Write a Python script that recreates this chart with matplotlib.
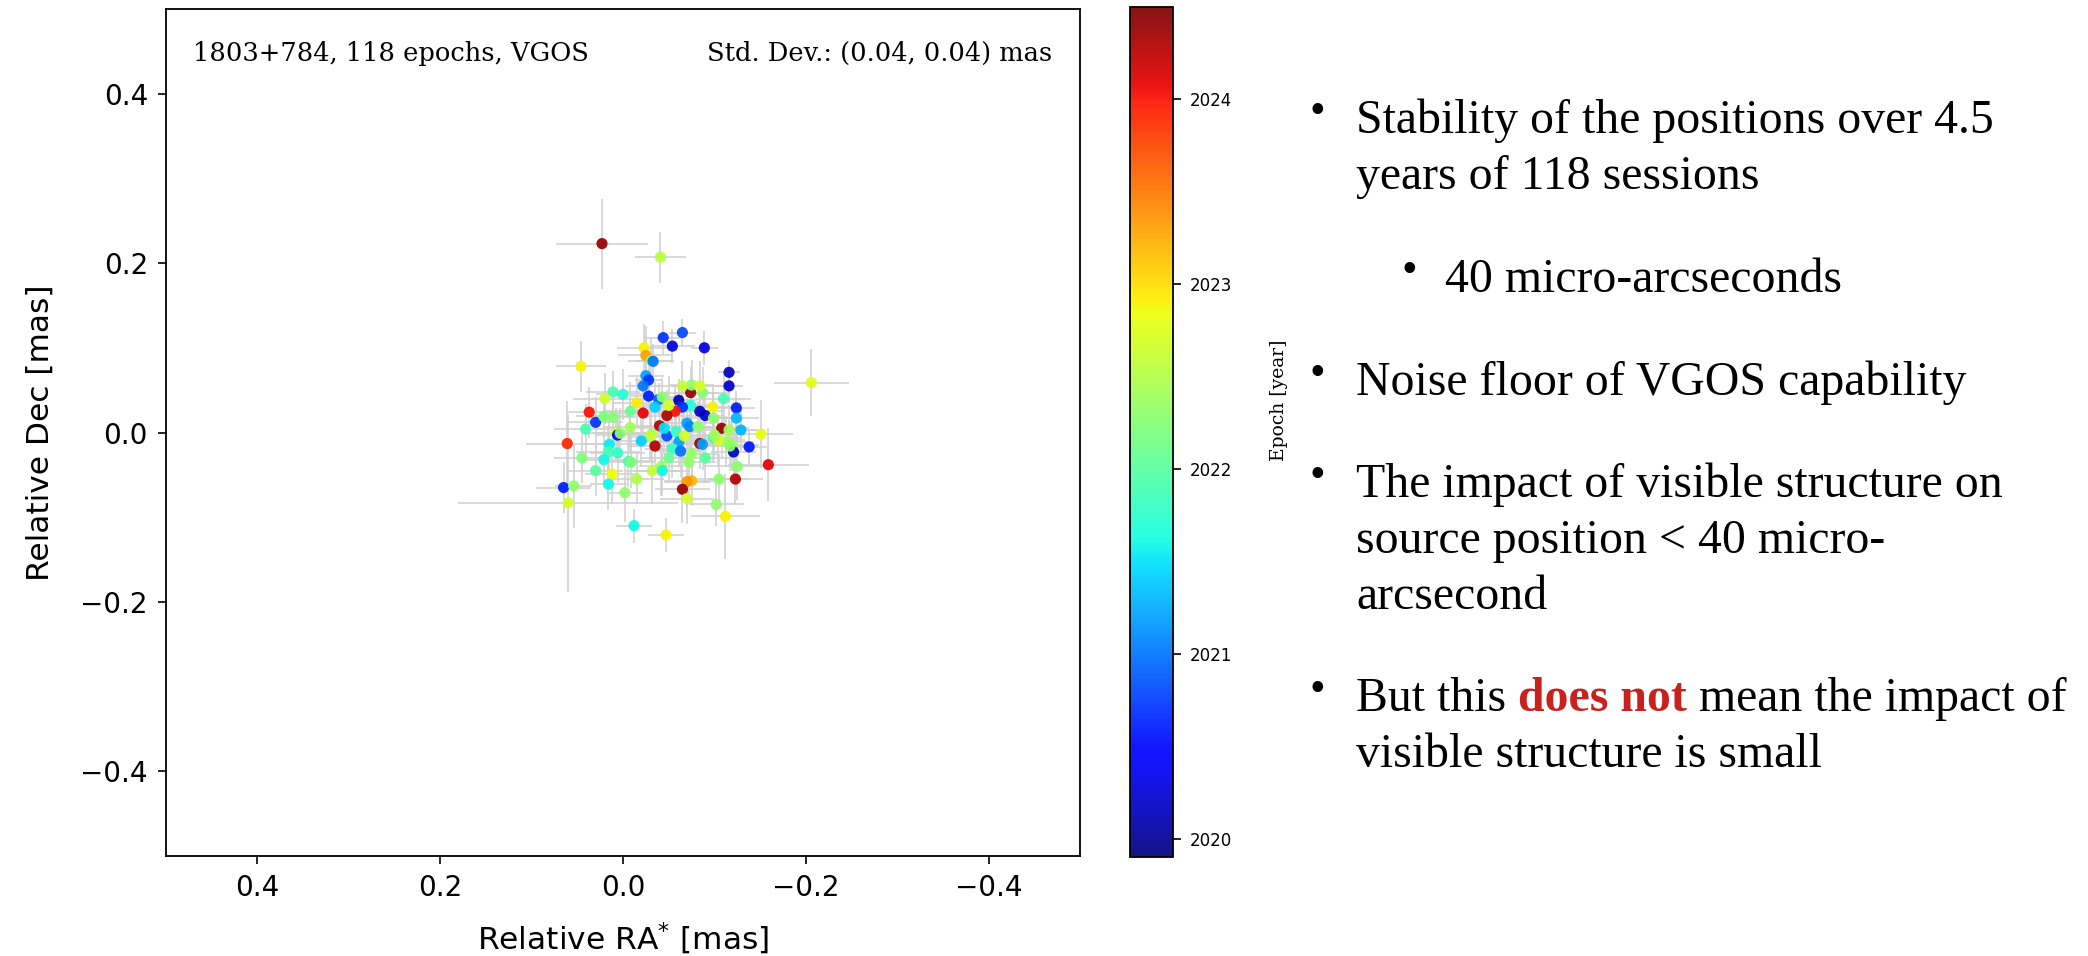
import matplotlib
matplotlib.use("Agg")
import matplotlib.pyplot as plt
import numpy as np

# ---- data ----
ra = [0.023, -0.041, -0.206, 0.046, -0.044, -0.065, -0.054, -0.023, -0.025, -0.031,
      -0.033, -0.025, -0.028, -0.022, -0.028, -0.039, -0.043, 0.011, 0.020, -0.015,
      -0.008, -0.022, 0.037, -0.061, -0.074, -0.075, -0.074, -0.065, -0.057, -0.048,
      -0.050, -0.089, -0.116, -0.116, -0.098, -0.124, -0.124, -0.084, -0.090, -0.087,
      -0.084, 0.030, 0.041, 0.061, 0.021, 0.011, 0.008, 0.006, 0.003, 0.015,
      0.016, 0.006, 0.021, -0.006, -0.009, 0.012, 0.016, 0.065, 0.054, 0.060,
      -0.002, -0.012, -0.047, -0.032, -0.042, -0.043, -0.072, -0.075, -0.070, -0.065,
      -0.070, -0.040, -0.031, -0.030, -0.035, -0.048, -0.058, -0.061, -0.054, -0.063,
      -0.067, -0.070, -0.073, -0.084, -0.108, -0.129, -0.116, -0.151, -0.113, -0.119,
      -0.121, -0.138, -0.087, -0.099, -0.082, -0.099, -0.125, -0.159, -0.105, -0.123,
      -0.102, -0.112, -0.104, -0.100, -0.117, -0.008, -0.020, -0.050, -0.045, -0.090,
      0.000, -0.015, 0.030, -0.065, -0.110, -0.035, 0.045, -0.075]
dec = [0.223, 0.207, 0.059, 0.078, 0.112, 0.118, 0.102, 0.100, 0.091, 0.085,
       0.084, 0.067, 0.062, 0.055, 0.043, 0.039, 0.042, 0.048, 0.040, 0.035,
       0.025, 0.023, 0.024, 0.038, 0.047, 0.056, 0.032, 0.030, 0.025, 0.020,
       0.032, 0.100, 0.071, 0.055, 0.030, 0.029, 0.017, 0.025, 0.020, 0.047,
       0.055, 0.012, 0.004, -0.013, 0.019, 0.018, -0.001, -0.003, -0.001, -0.014,
       -0.023, -0.024, -0.032, -0.034, -0.035, -0.049, -0.061, -0.065, -0.063, -0.083,
       -0.071, -0.110, -0.121, -0.045, -0.040, -0.045, -0.035, -0.057, -0.058, -0.067,
       -0.078, 0.008, -0.002, -0.005, -0.016, -0.004, 0.001, -0.011, -0.019, -0.022,
       -0.004, 0.011, 0.007, -0.013, 0.005, 0.003, 0.003, -0.002, -0.011, -0.015,
       -0.023, -0.017, -0.014, -0.006, 0.007, 0.017, -0.040, -0.038, -0.055, -0.055,
       -0.085, -0.099, -0.009, -0.003, -0.016, 0.006, -0.010, -0.030, 0.005, -0.030,
       0.045, -0.055, -0.045, 0.055, 0.040, 0.030, -0.030, -0.025]
ra_err = [0.050, 0.028, 0.041, 0.027, 0.020, 0.015, 0.025, 0.030, 0.030, 0.025,
          0.020, 0.020, 0.015, 0.020, 0.020, 0.025, 0.020, 0.030, 0.035, 0.025,
          0.030, 0.030, 0.025, 0.020, 0.030, 0.025, 0.030, 0.025, 0.030, 0.025,
          0.030, 0.015, 0.012, 0.015, 0.030, 0.020, 0.025, 0.025, 0.020, 0.030,
          0.030, 0.030, 0.035, 0.045, 0.030, 0.025, 0.035, 0.025, 0.030, 0.030,
          0.035, 0.030, 0.025, 0.030, 0.025, 0.030, 0.020, 0.030, 0.020, 0.120,
          0.020, 0.020, 0.020, 0.030, 0.025, 0.030, 0.030, 0.030, 0.025, 0.030,
          0.030, 0.030, 0.030, 0.025, 0.030, 0.025, 0.030, 0.030, 0.030, 0.025,
          0.030, 0.030, 0.025, 0.030, 0.030, 0.025, 0.030, 0.035, 0.030, 0.030,
          0.025, 0.020, 0.030, 0.030, 0.030, 0.030, 0.035, 0.044, 0.030, 0.030,
          0.030, 0.038, 0.030, 0.025, 0.030, 0.030, 0.030, 0.030, 0.030, 0.030,
          0.030, 0.030, 0.030, 0.030, 0.030, 0.030, 0.030, 0.030]
dec_err = [0.053, 0.030, 0.040, 0.030, 0.020, 0.016, 0.020, 0.028, 0.035, 0.025,
           0.020, 0.020, 0.020, 0.018, 0.025, 0.020, 0.022, 0.025, 0.030, 0.030,
           0.035, 0.030, 0.030, 0.025, 0.030, 0.030, 0.030, 0.025, 0.030, 0.030,
           0.035, 0.020, 0.015, 0.020, 0.025, 0.020, 0.025, 0.030, 0.025, 0.030,
           0.030, 0.030, 0.030, 0.050, 0.025, 0.030, 0.030, 0.025, 0.030, 0.035,
           0.030, 0.035, 0.030, 0.030, 0.030, 0.035, 0.030, 0.030, 0.050, 0.105,
           0.035, 0.020, 0.020, 0.040, 0.035, 0.030, 0.040, 0.030, 0.030, 0.040,
           0.030, 0.030, 0.030, 0.030, 0.030, 0.030, 0.030, 0.030, 0.035, 0.030,
           0.030, 0.030, 0.030, 0.030, 0.035, 0.025, 0.030, 0.040, 0.030, 0.030,
           0.030, 0.020, 0.030, 0.030, 0.030, 0.030, 0.040, 0.043, 0.030, 0.030,
           0.025, 0.050, 0.030, 0.030, 0.030, 0.030, 0.030, 0.030, 0.030, 0.030,
           0.030, 0.030, 0.030, 0.030, 0.030, 0.030, 0.030, 0.030]
epoch = [2024.40, 2022.55, 2022.75, 2022.90, 2020.70, 2020.80, 2020.30, 2022.90, 2023.30, 2022.30,
         2021.00, 2021.20, 2020.70, 2021.00, 2020.60, 2020.90, 2022.30, 2021.90, 2022.70, 2022.95,
         2022.10, 2024.10, 2024.00, 2020.10, 2024.40, 2022.30, 2021.70, 2020.70, 2024.00, 2024.30,
         2022.70, 2020.30, 2020.15, 2020.20, 2022.90, 2020.60, 2021.30, 2020.15, 2020.20, 2022.25,
         2022.70, 2020.70, 2021.90, 2023.90, 2022.20, 2022.25, 2022.75, 2020.50, 2022.30, 2021.55,
         2021.90, 2021.80, 2021.60, 2021.90, 2022.20, 2022.85, 2021.60, 2020.60, 2022.30, 2022.70,
         2022.30, 2021.60, 2022.90, 2022.60, 2022.40, 2021.60, 2022.30, 2023.20, 2023.35, 2024.40,
         2022.70, 2024.30, 2022.45, 2022.60, 2024.30, 2020.80, 2021.80, 2021.20, 2021.80, 2021.00,
         2022.70, 2021.20, 2021.10, 2024.40, 2024.40, 2021.30, 2022.40, 2022.80, 2022.40, 2022.40,
         2020.20, 2020.55, 2021.20, 2021.80, 2022.30, 2022.30, 2022.30, 2024.10, 2022.30, 2024.30,
         2022.30, 2022.90, 2022.70, 2022.40, 2022.30, 2022.40, 2021.40, 2022.10, 2021.50, 2022.00,
         2021.70, 2022.50, 2022.00, 2022.60, 2021.90, 2021.40, 2022.20, 2022.35]

x_ticks = [0.4, 0.2, 0.0, -0.2, -0.4]
y_ticks = [0.4, 0.2, 0.0, -0.2, -0.4]
cb_ticks = [2020, 2021, 2022, 2023, 2024]
epoch_range = (2019.9, 2024.5)

title_left = "1803+784, 118 epochs, VGOS"
title_right = "Std. Dev.: (0.04, 0.04) mas"

W, H = 2088, 956
fig = plt.figure(figsize=(W / 100, H / 100), dpi=100)
fig.patch.set_facecolor("white")


def fx(px):
    return px / W


def fy(py):
    return 1 - py / H


ax = fig.add_axes([fx(166), fy(856), fx(1080) - fx(166), fy(9) - fy(856)])
ax.errorbar(ra, dec, xerr=ra_err, yerr=dec_err, fmt="none",
            ecolor="#cfcfcf", elinewidth=1.2, alpha=0.9, zorder=1)
sc = ax.scatter(ra, dec, c=epoch, cmap="jet", vmin=epoch_range[0], vmax=epoch_range[1],
                s=65, edgecolors="none", alpha=0.92, zorder=2)
ax.set_xlim(0.5, -0.5)
ax.set_ylim(-0.5, 0.5)
ax.set_xticks(x_ticks)
ax.set_yticks(y_ticks)
ax.set_xticklabels([f"{v:.1f}".replace("-", "\u2212") for v in x_ticks])
ax.set_yticklabels([f"{v:.1f}".replace("-", "\u2212") for v in y_ticks])
ax.tick_params(labelsize=20, length=6, width=1.2, pad=7)
for s in ax.spines.values():
    s.set_linewidth(1.3)
ax.set_xlabel(r"Relative RA$^{*}$ [mas]", fontsize=22.5, va="center")
ax.set_ylabel("Relative Dec [mas]", fontsize=22.5, va="center")
ax.xaxis.set_label_coords(0.5, (856 - 939) / 847)
ax.yaxis.set_label_coords((40 - 166) / 914, 0.5)
ax.text(0.029, 0.948, title_left, transform=ax.transAxes, family="DejaVu Serif",
        fontsize=18.5, va="center", ha="left")
ax.text(0.97, 0.948, title_right, transform=ax.transAxes, family="DejaVu Serif",
        fontsize=18.5, va="center", ha="right")

cax = fig.add_axes([fx(1130), fy(857), fx(1173) - fx(1130), fy(7) - fy(857)])
cb = fig.colorbar(sc, cax=cax)
cb.set_ticks(cb_ticks)
cb.ax.tick_params(labelsize=12, length=6, width=1.2, pad=6)
cb.outline.set_linewidth(1.3)
fig.text(fx(1279), fy(400), "Epoch [year]", rotation=90, family="DejaVu Serif",
         fontsize=13.5, ha="center", va="center")

# ---- right-hand bullet text ----
serif = "Liberation Serif"
fs = 34.4
bfs = 32
red = "#C9211E"
bul_x, txt_x = 1310, 1356
sub_bul_x, sub_txt_x = 1402, 1445

lines = [
    (txt_x, 121, "Stability of the positions over 4.5", True, bul_x),
    (txt_x, 177, "years of 118 sessions", False, None),
    (sub_txt_x, 280, "40 micro-arcseconds", True, sub_bul_x),
    (txt_x, 383, "Noise floor of VGOS capability", True, bul_x),
    (txt_x, 485, "The impact of visible structure on", True, bul_x),
    (txt_x, 541, "source position < 40 micro-", False, None),
    (txt_x, 597, "arcsecond", False, None),
    (txt_x, 755, "visible structure is small", False, None),
]
for x, y, t, has_bul, bx in lines:
    fig.text(fx(x), fy(y), t, family=serif, fontsize=fs, va="center", ha="left")
    if has_bul:
        fig.text(fx(bx), fy(y - 9), "\u2022", family=serif, fontsize=bfs,
                 va="center", ha="left")

# mixed-style line
yb = 699
fig.text(fx(bul_x), fy(yb - 9), "\u2022", family=serif, fontsize=bfs, va="center", ha="left")
t1 = fig.text(fx(txt_x), fy(yb), "But this ", family=serif, fontsize=fs,
              va="center", ha="left")
t2 = fig.text(0, 0, "does not", family=serif, fontsize=fs, fontweight="bold",
              color=red, va="center", ha="left")
t3 = fig.text(0, 0, " mean the impact of", family=serif, fontsize=fs,
              va="center", ha="left")
fig.canvas.draw()
r = fig.canvas.get_renderer()
bb1 = t1.get_window_extent(r)
t2.set_position((bb1.x1 / W, fy(yb)))
fig.canvas.draw()
bb2 = t2.get_window_extent(r)
t3.set_position((bb2.x1 / W, fy(yb)))

fig.savefig("out.png", dpi=100)
